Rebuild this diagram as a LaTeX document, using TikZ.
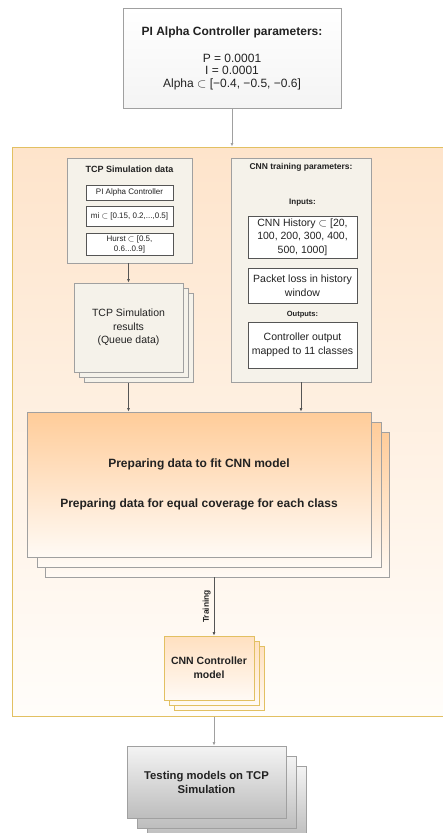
\documentclass[tikz,border=0pt]{standalone}
\usepackage{fontspec}
\setmainfont{Liberation Sans}
\usetikzlibrary{shadows}
\usetikzlibrary{arrows.meta}

\definecolor{ink}{HTML}{222222}
\definecolor{frameline}{HTML}{E2C062}
\definecolor{frametop}{HTML}{FEE4CB}
\definecolor{framebot}{HTML}{FFFDFA}
\definecolor{peach}{HTML}{FFCC99}
\definecolor{peachlow}{HTML}{FFFAF5}
\definecolor{peachmid}{HTML}{FFE0C0}
\definecolor{beige}{HTML}{F5F2EA}
\definecolor{greyline}{HTML}{A0A0A0}
\definecolor{darkline}{HTML}{555555}
\definecolor{greytop}{HTML}{F4F4F4}
\definecolor{greybot}{HTML}{BDBDBD}
\newcommand{\fsz}[2]{\fontsize{#1}{#2}\selectfont}

\begin{document}
\begin{tikzpicture}[x=1pt,y=-1pt,
  every node/.style={inner sep=0pt,align=center,text=ink},
  wrap/.style={draw=frameline,line width=1pt,top color=frametop,bottom color=framebot},
  panel/.style={draw=greyline,line width=0.8pt,fill=beige},
  item/.style={draw=darkline,line width=0.7pt,fill=white},
  link/.style={draw=darkline,line width=0.8pt,-{Latex[length=3.5pt,width=3pt]}},
  head/.style={font=\bfseries\fsz{9}{11}},
  tiny/.style={font=\bfseries\fsz{7.5}{9}},
  body/.style={font=\fsz{10.5}{13.5}},
  shade peach/.style={top color=peach,bottom color=peachlow},
  shade grey/.style={top color=greytop,bottom color=greybot},
  shade model/.style={top color=peachmid,bottom color=peachlow},
]
\useasboundingbox (0,0) rectangle (442,833);

% orange frame round the training part
\node[wrap,minimum width=438pt,minimum height=569pt] (frame) at (231,431.5) {};

\node[draw=greyline,line width=0.8pt,top color=white,bottom color=greytop,
  minimum width=218pt,minimum height=100pt,font=\fsz{12}{12.5}] (params) at (232,58)
  {\textbf{PI Alpha Controller parameters:}\\[14.5pt]
   P = 0.0001\\ I = 0.0001\\ Alpha $\subset$ [−0.4, −0.5, −0.6]};

%% left column
\node[panel,minimum width=125pt,minimum height=105pt] (simdata) at (129.5,210.5) {};
\node[head] (simtitle) at (129.5,169) {TCP Simulation data};
\node[item,minimum width=87pt,minimum height=15pt,font=\fsz{8}{10}] (ctrl) at (129.5,192.5) {PI Alpha Controller};
\node[item,minimum width=87pt,minimum height=20pt,font=\fsz{8}{10}] (mi) at (129.5,216) {mi $\subset$ [0.15, 0.2,...,0.5]};
\node[item,minimum width=87pt,minimum height=22pt,font=\fsz{8}{10}] (hurst) at (129.5,244) {Hurst $\subset$ [0.5,\\ 0.6...0.9]};

\node[panel,body,minimum width=109pt,minimum height=89pt,
  copy shadow={shadow xshift=10pt,shadow yshift=-10pt,fill=beige,draw=greyline,line width=0.8pt},
  copy shadow={shadow xshift=5pt,shadow yshift=-5pt,fill=beige,draw=greyline,line width=0.8pt}]
  (results) at (128.5,327.5) {TCP Simulation\\ results\\ (Queue data)};

%% right column
\node[panel,minimum width=140pt,minimum height=224pt] (cnnpar) at (301,270) {};
\node[head,font=\bfseries\fsz{8.5}{10}] (cnntitle) at (301,167) {CNN training parameters:};
\node[tiny,font=\bfseries\fsz{8}{10}] (inputs) at (302.5,203) {Inputs:};
\node[item,body,minimum width=109pt,minimum height=42pt] (hist) at (302.5,237)
  {CNN History $\subset$ [20,\\ 100, 200, 300, 400,\\ 500, 1000]};
\node[item,body,minimum width=109pt,minimum height=35pt] (loss) at (302.5,285.5)
  {Packet loss in history\\ window};
\node[tiny] (outputs) at (302.5,315) {Outputs:};
\node[item,body,minimum width=109pt,minimum height=46pt] (cout) at (302.5,345)
  {Controller output\\ mapped to 11 classes};

%% data preparation
\node[draw=greyline,line width=0.8pt,shade peach,minimum width=344pt,minimum height=145pt,
  copy shadow={shadow xshift=18pt,shadow yshift=-20pt,shade peach,draw=greyline,line width=0.8pt},
  copy shadow={shadow xshift=10pt,shadow yshift=-10pt,shade peach,draw=greyline,line width=0.8pt},
  font=\bfseries\fsz{12}{14}] (prep) at (199,484.5)
  {Preparing data to fit CNN model\\[26pt] Preparing data for equal coverage for each class};

\node[draw=frameline,line width=0.8pt,shade model,minimum width=90pt,minimum height=64pt,
  copy shadow={shadow xshift=10pt,shadow yshift=-10pt,shade model,draw=frameline,line width=0.8pt},
  copy shadow={shadow xshift=5pt,shadow yshift=-5pt,shade model,draw=frameline,line width=0.8pt},
  font=\bfseries\fsz{10.5}{14}] (model) at (209,668) {CNN Controller\\ model};

\node[draw=greyline,line width=0.8pt,shade grey,minimum width=159pt,minimum height=72pt,
  copy shadow={shadow xshift=20pt,shadow yshift=-20pt,shade grey,draw=greyline,line width=0.8pt},
  copy shadow={shadow xshift=10pt,shadow yshift=-10pt,shade grey,draw=greyline,line width=0.8pt},
  font=\bfseries\fsz{11.3}{14}] (test) at (206.5,782) {Testing models on TCP\\ Simulation};

%% connectors
\draw[link,draw=greyline] (params.south) -- (params.south |- frame.north);
\draw[link] (simdata.south -| results.north) -- (results.north);
\draw[link] ([yshift=-11pt]results.south) -- (results.south |- prep.north);
\draw[link] (cnnpar.south) -- (cnnpar.south |- prep.north);
\coordinate (mx) at ([xshift=5pt]model.south);
\draw[link] ([yshift=-20pt]prep.south -| mx) -- node[midway,rotate=90,anchor=south,inner sep=3pt,
  font=\bfseries\fsz{8.4}{10}] (trainlbl) {Training} (model.north -| mx);
\draw[link,draw=greyline] (mx |- frame.south) -- (mx |- test.north);
\end{tikzpicture}
\end{document}
